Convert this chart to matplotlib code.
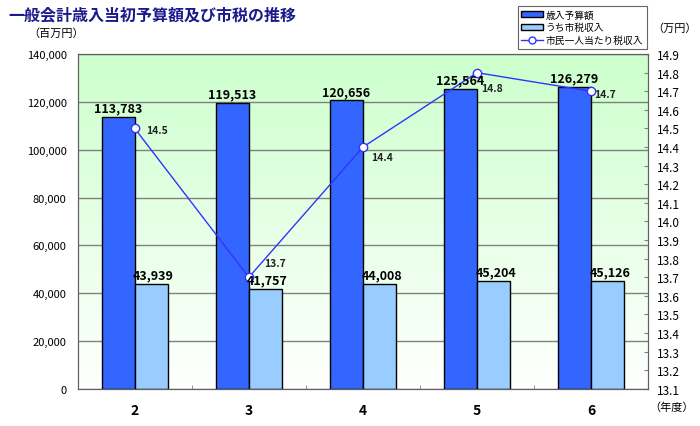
import numpy as np
import matplotlib.pyplot as plt
from matplotlib.lines import Line2D
from matplotlib.patches import Patch

plt.rcParams['font.family'] = ['Noto Sans CJK JP', 'DejaVu Sans']

years = ['2', '3', '4', '5', '6']
revenue = [113783, 119513, 120656, 125564, 126279]
city_tax = [43939, 41757, 44008, 45204, 45126]
per_capita = [14.5, 13.7, 14.4, 14.8, 14.7]
# where each per-capita label sits relative to its point (points)
label_offsets = [(16, -1), (19, 10), (14, -7), (11, -11), (10, -2)]

fig = plt.figure(figsize=(7, 4.27), dpi=100)
ax = fig.add_axes([0.111, 0.087, 0.815, 0.784])

x = np.arange(len(years))
w = 0.29

# green-to-white gradient background
grad = np.linspace(0, 1, 256).reshape(-1, 1)
top = np.array([0.80, 1.0, 0.80])
bottom = np.array([1.0, 1.0, 1.0])
img = bottom + (top - bottom) * grad
ax.imshow(img[:, None, :].repeat(2, axis=1), extent=[0, 1, 0, 1], origin='lower',
          transform=ax.transAxes, aspect='auto', zorder=0)

ax.bar(x - w / 2, revenue, w, color='#3366ff', edgecolor='black', linewidth=1, zorder=2)
ax.bar(x + w / 2, city_tax, w, color='#99ccff', edgecolor='black', linewidth=1, zorder=2)

ax.set_xlim(-0.5, len(years) - 0.5)
ax.set_ylim(0, 140000)
ax.set_yticks(range(0, 140001, 20000))
ax.set_yticklabels([f'{v:,}' for v in range(0, 140001, 20000)], fontsize=8)
ax.yaxis.grid(True, color='#808080', linewidth=1, zorder=1)
ax.set_axisbelow(True)
ax.tick_params(axis='y', length=0, pad=8)
ax.set_xticks(x)
ax.set_xticklabels(years, fontsize=10, fontweight='bold')
ax.set_xticks(np.arange(-0.5, len(years)), minor=True)
ax.tick_params(axis='x', which='major', length=0, pad=10)
ax.tick_params(axis='x', which='minor', length=3, direction='in', color='#808080')
for s in ax.spines.values():
    s.set_color('#606060')

ax2 = ax.twinx()
ax2.plot(x, per_capita, color='#3333ff', linewidth=1, marker='o', markersize=6,
         markerfacecolor='white', markeredgecolor='#3333ff', zorder=6)
for i in range(len(years)):
    ax2.annotate(f'{per_capita[i]:.1f}', (x[i], per_capita[i]), xytext=label_offsets[i],
                 textcoords='offset points', ha='center', va='center',
                 fontsize=7.5, fontweight='bold', color='#222222')
    # bar value labels drawn above the line
    ax2.text(x[i] - w / 2, revenue[i] + 1000, f'{revenue[i]:,}', ha='center', va='bottom',
             fontsize=9, fontweight='bold', zorder=8, transform=ax.transData)
    ax2.text(x[i] + w / 2 + 0.02, city_tax[i] + 1000, f'{city_tax[i]:,}', ha='center',
             va='bottom', fontsize=9, fontweight='bold', zorder=8, transform=ax.transData)
ax2.set_ylim(13.1, 14.9)
ax2.set_yticks(np.round(np.arange(13.1, 14.91, 0.1), 1))
ax2.set_yticklabels([f'{v:.1f}' for v in np.arange(13.1, 14.91, 0.1)], fontsize=8.5)
ax2.tick_params(axis='y', direction='in', length=3, color='#808080', pad=6)
for s in ax2.spines.values():
    s.set_color('#606060')

fig.text(0.012, 0.965, '一般会計歳入当初予算額及び市税の推移', fontsize=11.5, color='#1a1a8c',
         fontweight='bold', va='center')
fig.text(0.04, 0.922, '（百万円）', fontsize=8, va='center')
fig.text(0.932, 0.934, '（万円）', fontsize=8, va='center')
fig.text(0.928, 0.045, '（年度）', fontsize=8, va='center')

handles = [Patch(facecolor='#3366ff', edgecolor='black'),
           Patch(facecolor='#99ccff', edgecolor='black'),
           Line2D([0], [0], color='#3333ff', marker='o', markerfacecolor='white',
                  markeredgecolor='#3333ff', markersize=5, linewidth=1)]
leg = fig.legend(handles, ['歳入予算額', 'うち市税収入', '市民一人当たり税収入'],
                 loc='upper left', bbox_to_anchor=(0.733, 0.995), fontsize=7,
                 frameon=True, fancybox=False, edgecolor='#404040', handlelength=2.2,
                 handleheight=0.6, borderpad=0.35, labelspacing=0.3, handletextpad=0.3)
leg.get_frame().set_linewidth(0.8)

fig.savefig('out.png', dpi=100)
